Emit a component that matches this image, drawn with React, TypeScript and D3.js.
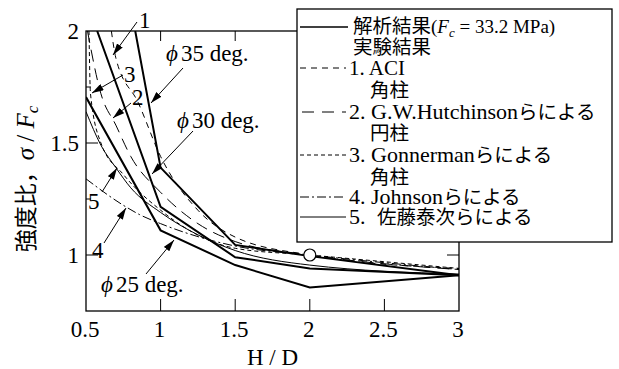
import React from "react";
import * as d3 from "d3";

// 解析結果 (内部摩擦角別)
const hd35 = [0.83, 1, 1.5, 2, 3];
const phi35 = [2.0, 1.39, 1.045, 0.995, 0.91];
const hd30 = [0.575, 1, 1.5, 2, 3];
const phi30 = [2.0, 1.215, 0.99, 0.94, 0.91];
const hd25 = [0.5, 1, 1.5, 2, 3];
const phi25 = [1.705, 1.11, 0.955, 0.855, 0.91];

// 実験結果
const aciHD = [0.67, 0.7, 0.85, 1, 1.25, 1.5, 2, 3];
const aci = [2.0, 1.88, 1.68, 1.44, 1.2, 1.08, 1.0, 0.94];
const hutchHD = [0.51, 0.6, 0.7, 0.8, 1, 1.25, 1.5, 2, 3];
const hutch = [2.0, 1.72, 1.58, 1.44, 1.28, 1.14, 1.06, 1.0, 0.935];
const gonHD = [0.52, 0.53, 0.6, 0.75, 1, 1.5, 2, 3];
const gon = [2.0, 1.72, 1.5, 1.36, 1.2, 1.03, 1.0, 0.94];
const johnHD = [0.5, 0.755, 0.86, 1, 1.5, 2, 3];
const john = [1.34, 1.22, 1.18, 1.14, 1.04, 1.0, 0.935];
const satoHD = [0.5, 0.6, 0.7, 0.8, 1, 1.25, 1.5, 2, 3];
const sato = [1.64, 1.49, 1.39, 1.3, 1.19, 1.09, 1.02, 0.955, 0.915];

const markHD = [2];
const markY = [1.0];

const xTicks = [0.5, 1, 1.5, 2, 2.5, 3];
const xTickLabels = ["0.5", "1", "1.5", "2", "2.5", "3"];
const yTicks = [1, 1.5, 2];
const yTickLabels = ["1", "1.5", "2"];
const yMinor = [1.25, 1.75];

const W = 619, H = 369;
const x = d3.scaleLinear().domain([0.5, 3]).range([86, 459]);
const y = d3.scaleLinear().domain([0.75, 2]).range([311, 31]);

const zip = (xs: number[], ys: number[]) => xs.map((v, i) => [v, ys[i]] as [number, number]);

const lineLin = d3.line<[number, number]>().x(d => x(d[0])).y(d => y(d[1]));
const lineSmooth = d3
  .line<[number, number]>()
  .x(d => x(d[0]))
  .y(d => y(d[1]))
  .curve(d3.curveMonotoneX);

const series = [
  { d: zip(hd35, phi35), gen: lineLin, w: 2, dash: "" },
  { d: zip(hd30, phi30), gen: lineLin, w: 2, dash: "" },
  { d: zip(hd25, phi25), gen: lineLin, w: 2, dash: "" },
  { d: zip(aciHD, aci), gen: lineSmooth, w: 1, dash: "6,5" },
  { d: zip(hutchHD, hutch), gen: lineSmooth, w: 1, dash: "12,7" },
  { d: zip(gonHD, gon), gen: lineSmooth, w: 1, dash: "4,3" },
  { d: zip(johnHD, john), gen: lineSmooth, w: 1, dash: "9,3,2,3" },
  { d: zip(satoHD, sato), gen: lineSmooth, w: 1, dash: "" },
];

const S = { fontFamily: "Liberation Serif" };
const J = { fontFamily: "Noto Sans CJK JP" };

function Arrow({ x1, y1, x2, y2 }: { x1: number; y1: number; x2: number; y2: number }) {
  return <line x1={x1} y1={y1} x2={x2} y2={y2} stroke="#000" strokeWidth={1} markerEnd="url(#ah)" />;
}

function Phi({ px, py, label }: { px: number; py: number; label: string }) {
  return (
    <text x={px} y={py} style={S} fontSize={23}>
      <tspan fontStyle="italic">ϕ</tspan>
      <tspan dx={3}>{label}</tspan>
    </text>
  );
}

export default function App() {
  const [x0, x1] = x.range();
  const [yb, yt] = y.range();
  const lx = 300;
  return (
    <svg width={W} height={H} style={{ position: "absolute", left: 0, top: 0, background: "#fff" }}>
      <defs>
        <clipPath id="plot">
          <rect x={x0} y={yt} width={x1 - x0} height={yb - yt} />
        </clipPath>
        <marker id="ah" viewBox="0 0 10 6" refX={10} refY={3} markerWidth={12} markerHeight={7} orient="auto" markerUnits="userSpaceOnUse">
          <path d="M0,0 L10,3 L0,6 Z" fill="#000" />
        </marker>
      </defs>

      <g clipPath="url(#plot)">
        {series.map((s, i) => (
          <path key={i} d={s.gen(s.d) || ""} fill="none" stroke="#000" strokeWidth={s.w} strokeDasharray={s.dash || undefined} />
        ))}
      </g>
      {zip(markHD, markY).map((p, i) => (
        <circle key={i} cx={x(p[0])} cy={y(p[1])} r={6} fill="#fff" stroke="#000" strokeWidth={1.2} />
      ))}

      {/* frame and ticks */}
      <rect x={x0} y={yt} width={x1 - x0} height={yb - yt} fill="none" stroke="#000" strokeWidth={1.3} />
      {xTicks.slice(1, -1).map(t => (
        <g key={t}>
          <line x1={x(t)} x2={x(t)} y1={yb} y2={yb - 12} stroke="#000" />
          <line x1={x(t)} x2={x(t)} y1={yt} y2={yt + 10} stroke="#000" />
        </g>
      ))}
      {yTicks.slice(0, -1).map(t => (
        <g key={t}>
          <line x1={x0} x2={x0 + 12} y1={y(t)} y2={y(t)} stroke="#000" />
          <line x1={x1} x2={x1 - 12} y1={y(t)} y2={y(t)} stroke="#000" />
        </g>
      ))}
      {yMinor.map(t => (
        <g key={t}>
          <line x1={x0} x2={x0 + 5} y1={y(t)} y2={y(t)} stroke="#000" />
          <line x1={x1} x2={x1 - 5} y1={y(t)} y2={y(t)} stroke="#000" />
        </g>
      ))}
      {xTicks.map((t, i) => (
        <text key={t} x={x(t) - 1} y={337} textAnchor="middle" style={S} fontSize={23}>
          {xTickLabels[i]}
        </text>
      ))}
      {yTicks.map((t, i) => (
        <text key={t} x={79} y={y(t) + 8} textAnchor="end" style={S} fontSize={23}>
          {yTickLabels[i]}
        </text>
      ))}
      <text x={(x0 + x1) / 2} y={365} textAnchor="middle" style={S} fontSize={23}>
        H / D
      </text>
      <text transform={`translate(34,${(yb + yt) / 2 + 8}) rotate(-90)`} textAnchor="middle" fontSize={23}>
        <tspan style={J}>強度比，</tspan>
        <tspan style={S} fontStyle="italic" fontSize={25}>σ</tspan>
        <tspan style={S} fontSize={25}> / </tspan>
        <tspan style={S} fontStyle="italic" fontSize={25}>F</tspan>
        <tspan style={S} fontStyle="italic" fontSize={17} dy={4}>c</tspan>
      </text>

      {/* annotations */}
      <text x={139} y={28} style={S} fontSize={23}>1</text>
      <Arrow x1={137} y1={22} x2={113} y2={55} />
      <text x={124} y={82} style={S} fontSize={23}>3</text>
      <Arrow x1={123} y1={75} x2={92} y2={93} />
      <text x={132} y={105} style={S} fontSize={23}>2</text>
      <Arrow x1={131} y1={103} x2={113} y2={118} />
      <Phi px={166} py={61} label="35 deg." />
      <Arrow x1={183} y1={68} x2={151} y2={103} />
      <Phi px={177} py={128} label="30 deg." />
      <Arrow x1={193} y1={131} x2={152} y2={174} />
      <text x={88} y={209} style={S} fontSize={23}>5</text>
      <Arrow x1={102} y1={192} x2={117} y2={168} />
      <text x={92} y={258} style={S} fontSize={23}>4</text>
      <Arrow x1={104} y1={243} x2={126} y2={208} />
      <Phi px={101} py={292} label="25 deg." />
      <Arrow x1={146} y1={274} x2={174} y2={240} />

      {/* legend */}
      <rect x={297} y={9} width={315} height={233} fill="#fff" stroke="#000" strokeWidth={1.3} />
      <line x1={lx} x2={348} y1={27} y2={27} stroke="#000" strokeWidth={1.6} />
      <text x={353} y={33} fontSize={19.5}>
        <tspan style={J}>解析結果</tspan>
        <tspan style={S} fontSize={19}>(</tspan>
        <tspan style={S} fontStyle="italic" fontSize={19}>F</tspan>
        <tspan style={S} fontStyle="italic" fontSize={13} dy={4}>c</tspan>
        <tspan style={S} fontSize={19} dy={-4}> = 33.2 MPa)</tspan>
      </text>
      <text x={353} y={54} fontSize={19.5} style={J}>実験結果</text>
      <line x1={lx} x2={346} y1={68} y2={68} stroke="#000" strokeDasharray="6,5" />
      <text x={349} y={75} fontSize={21} style={S}>1. ACI</text>
      <text x={370} y={97} fontSize={19.5} style={J}>角柱</text>
      <line x1={302} x2={346} y1={112} y2={112} stroke="#000" strokeDasharray="12,8" />
      <text x={349} y={119} fontSize={22}>
        <tspan style={S}>2. G.W.Hutchinson</tspan>
        <tspan style={J} fontSize={19.5}>らによる</tspan>
      </text>
      <text x={370} y={140} fontSize={19.5} style={J}>円柱</text>
      <line x1={lx} x2={346} y1={155} y2={155} stroke="#000" strokeDasharray="4,3" />
      <text x={349} y={162} fontSize={22}>
        <tspan style={S}>3. Gonnerman</tspan>
        <tspan style={J} fontSize={19.5}>らによる</tspan>
      </text>
      <text x={370} y={184} fontSize={19.5} style={J}>角柱</text>
      <line x1={lx} x2={346} y1={197} y2={197} stroke="#000" strokeDasharray="9,3,2,3" />
      <text x={349} y={204} fontSize={22}>
        <tspan style={S}>4. Johnson</tspan>
        <tspan style={J} fontSize={19.5}>らによる</tspan>
      </text>
      <line x1={lx} x2={346} y1={217} y2={217} stroke="#000" />
      <text x={349} y={224} fontSize={22}>
        <tspan style={S}>5.</tspan>
        <tspan style={J} fontSize={19.5} x={377}>佐藤泰次らによる</tspan>
      </text>
    </svg>
  );
}
